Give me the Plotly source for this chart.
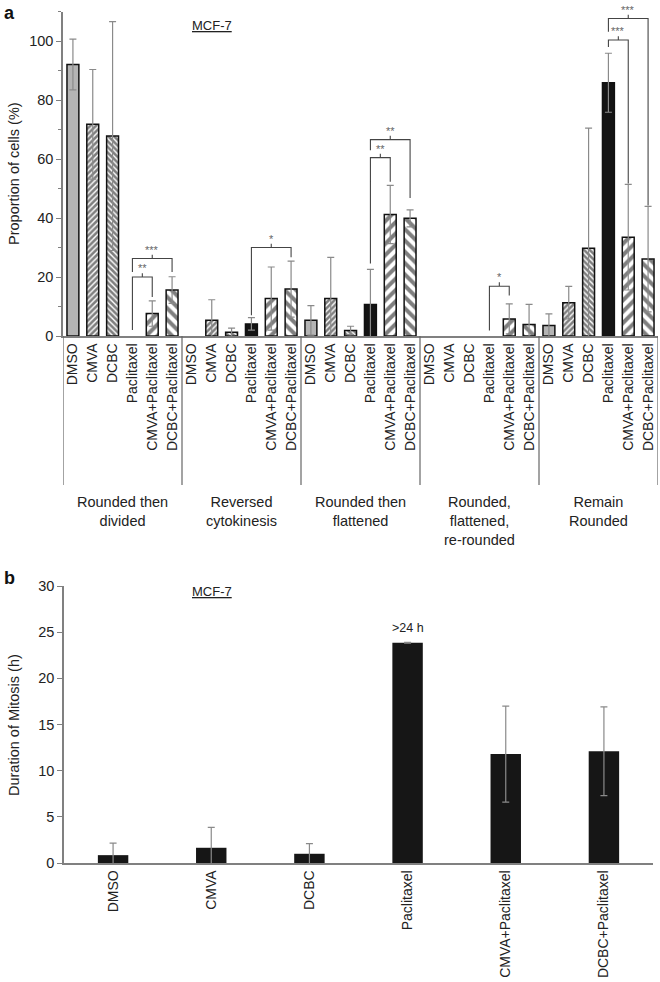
import plotly.graph_objects as go

# ---------------- data ----------------
treatments = ["DMSO", "CMVA", "DCBC", "Paclitaxel", "CMVA+Paclitaxel", "DCBC+Paclitaxel"]
outcome_groups = ["Rounded then<br>divided", "Reversed<br>cytokinesis", "Rounded then<br>flattened",
                  "Rounded,<br>flattened,<br>re-rounded", "Remain<br>Rounded"]

# proportion of cells (%) per treatment, across the 5 outcome groups
prop_dmso = [92.1, 0, 5.3, 0, 3.6]
prop_cmva = [71.8, 5.3, 12.7, 0, 11.3]
prop_dcbc = [67.8, 1.3, 1.9, 0, 29.8]
prop_pac = [0, 4.1, 10.7, 0, 85.9]
prop_cmva_pac = [7.6, 12.7, 41.2, 5.8, 33.5]
prop_dcbc_pac = [15.6, 15.9, 39.9, 3.9, 26.1]

err_dmso = [8.6, 0, 5.0, 0, 3.9]
err_cmva = [18.6, 7.0, 14.0, 0, 5.5]
err_dcbc = [38.8, 1.4, 1.4, 0, 40.7]
err_pac = [0, 2.1, 11.9, 0, 10.0]
err_cmva_pac = [4.3, 10.7, 9.9, 5.1, 17.9]
err_dcbc_pac = [4.5, 9.5, 2.9, 6.8, 17.9]

# significance marks: (group, from treatment, to treatment, bracket level, left end, right end, label)
sig_marks = [
    (0, 3, 4, 20.0, 2.0, 13.2, "**"),
    (0, 3, 5, 26.3, 21.7, 21.7, "***"),
    (1, 3, 5, 30.0, 7.0, 26.7, "*"),
    (2, 3, 4, 60.5, 24.6, 52.3, "**"),
    (2, 3, 5, 66.6, 63.0, 46.8, "**"),
    (3, 3, 4, 16.9, 1.9, 13.7, "*"),
    (4, 3, 4, 100.4, 98.0, 51.7, "***"),
    (4, 3, 5, 107.7, 103.2, 44.3, "***"),
]

# duration of mitosis (h)
duration = [0.85, 1.65, 1.0, 23.85, 11.8, 12.1]
duration_err = [1.3, 2.2, 1.1, 0.05, 5.2, 4.8]

# ---------------- figure ----------------
W, H = 660, 982
FONT = "Liberation Sans, Arial, sans-serif"
TXT = "#222222"
AX = "#808080"

def py(px):
    return 1 - px / H

n_t = len(treatments)
n_g = len(outcome_groups)

fig = go.Figure()

series = [
    (prop_dmso, err_dmso, dict(color="#b4b4b4")),
    (prop_cmva, err_cmva, dict(color="white", pattern=dict(shape="/", fgcolor="#000", bgcolor="white", size=4, solidity=0.65))),
    (prop_dcbc, err_dcbc, dict(color="white", pattern=dict(shape="\\", fgcolor="#000", bgcolor="white", size=4, solidity=0.65))),
    (prop_pac, err_pac, dict(color="#141414")),
    (prop_cmva_pac, err_cmva_pac, dict(color="white", pattern=dict(shape="/", fgcolor="#000", bgcolor="white", size=8, solidity=0.5))),
    (prop_dcbc_pac, err_dcbc_pac, dict(color="white", pattern=dict(shape="\\", fgcolor="#000", bgcolor="white", size=8, solidity=0.5))),
]

for k, (vals, errs, mk) in enumerate(series):
    xs = [g * n_t + k for g in range(n_g)]
    ys = [v if v > 0 else None for v in vals]
    es = [e if v > 0 else None for v, e in zip(vals, errs)]
    fig.add_trace(go.Bar(
        x=xs, y=ys, name=treatments[k], xaxis="x", yaxis="y", width=0.6,
        marker=dict(line=dict(color="#111", width=1.5), **mk),
        error_y=dict(type="data", array=es, visible=True, color="#8a8a8a", thickness=1.2, width=3.5),
        showlegend=False,
    ))

fig.add_trace(go.Bar(
    x=treatments, y=duration, xaxis="x2", yaxis="y2", width=0.31,
    marker=dict(color="#161616", line=dict(width=0)),
    error_y=dict(type="data", array=duration_err, visible=True, color="#8a8a8a", thickness=1.2, width=3.5),
    showlegend=False,
))

shapes = []
annotations = []

# group separators below the x axis of panel a
for g in range(n_g + 1):
    xg = g * n_t - 0.5
    shapes.append(dict(type="line", xref="x", yref="paper", x0=xg, x1=xg,
                       y0=py(336), y1=py(485), line=dict(color="#666", width=1.2)))
# group labels
for g, lab in enumerate(outcome_groups):
    annotations.append(dict(text=lab, xref="x", yref="paper", x=g * n_t + (n_t - 1) / 2,
                            y=py(492), yanchor="top", xanchor="center", showarrow=False,
                            font=dict(family=FONT, size=14.5, color=TXT)))

# significance brackets
for g, a, b, top, le, re_, lab in sig_marks:
    xa = g * n_t + a
    xb = g * n_t + b
    xm = (xa + xb) / 2
    path = f"M {xa},{le} L {xa},{top} L {xb},{top} L {xb},{re_} M {xm},{top} L {xm},{top + 1.3}"
    shapes.append(dict(type="path", xref="x", yref="y", path=path,
                       line=dict(color="#444", width=1.1)))
    annotations.append(dict(text=lab, xref="x", yref="y", x=xm, y=top + 0.6, yanchor="bottom",
                            xanchor="center", showarrow=False, borderpad=0,
                            font=dict(family=FONT, size=11, color="#666")))

# titles and labels
annotations += [
    dict(text="<b>a</b>", xref="paper", yref="paper", x=2 / W, y=py(1), xanchor="left", yanchor="top",
         showarrow=False, font=dict(family=FONT, size=18, color="#111")),
    dict(text="<b>b</b>", xref="paper", yref="paper", x=2 / W, y=py(566), xanchor="left", yanchor="top",
         showarrow=False, font=dict(family=FONT, size=18, color="#111")),
    dict(text="<u>MCF-7</u>", xref="paper", yref="paper", x=212 / W, y=py(26), xanchor="center",
         yanchor="middle", showarrow=False, font=dict(family=FONT, size=13, color=TXT)),
    dict(text="<u>MCF-7</u>", xref="paper", yref="paper", x=212 / W, y=py(591), xanchor="center",
         yanchor="middle", showarrow=False, font=dict(family=FONT, size=13, color=TXT)),
    dict(text="Proportion of cells (%)", xref="paper", yref="paper", x=14 / W, y=py(174),
         textangle=-90, xanchor="center", yanchor="middle", showarrow=False,
         font=dict(family=FONT, size=14.5, color=TXT)),
    dict(text="Duration of Mitosis (h)", xref="paper", yref="paper", x=14 / W, y=py(725),
         textangle=-90, xanchor="center", yanchor="middle", showarrow=False,
         font=dict(family=FONT, size=14.5, color=TXT)),
    dict(text=">24 h", xref="x2", yref="y2", x=treatments[3], y=duration[3] + 0.6, yanchor="bottom",
         xanchor="center", showarrow=False, font=dict(family=FONT, size=12.5, color=TXT)),
]

tickvals_a = list(range(n_g * n_t))
ticktext_a = [treatments[i % n_t] for i in tickvals_a]

fig.update_layout(
    width=W, height=H,
    margin=dict(l=0, r=0, t=0, b=0),
    paper_bgcolor="white", plot_bgcolor="white",
    barmode="overlay",
    font=dict(family=FONT, size=14, color=TXT),
    xaxis=dict(domain=[63 / W, 658 / W], range=[-0.5, n_g * n_t - 0.5], anchor="y", automargin=False,
               tickmode="array", tickvals=tickvals_a, ticktext=ticktext_a, tickangle=-90,
               ticks="", showline=True, linecolor=AX, linewidth=1.5, showgrid=False, zeroline=False,
               tickfont=dict(family=FONT, size=14, color=TXT), fixedrange=True),
    yaxis=dict(domain=[py(336), py(11.7)], range=[0, 110], anchor="x", automargin=False,
               tickmode="array", tickvals=[0, 20, 40, 60, 80, 100], ticks="outside", ticklen=5,
               tickcolor=AX, minor=dict(tickmode="array", tickvals=[10, 30, 50, 70, 90, 110],
                                        ticks="outside", ticklen=3, tickcolor=AX),
               showline=True, linecolor=AX, linewidth=1.5, showgrid=False, zeroline=False,
               tickfont=dict(family=FONT, size=14.5, color=TXT)),
    xaxis2=dict(domain=[64 / W, 653 / W], anchor="y2", type="category", tickangle=-90, ticks="",
                automargin=False, showline=True, linecolor=AX, linewidth=1.5, showgrid=False,
                tickfont=dict(family=FONT, size=14, color=TXT)),
    yaxis2=dict(domain=[py(863), py(586)], range=[0, 30], anchor="x2", dtick=5, automargin=False,
                ticks="outside", ticklen=5, tickcolor=AX, showline=True, linecolor=AX, linewidth=1.5,
                showgrid=False, zeroline=False, tickfont=dict(family=FONT, size=14.5, color=TXT)),
    shapes=shapes,
    annotations=annotations,
)

fig.write_html("out.html", config={"displayModeBar": False},
               post_script="document.body.style.margin='0px';document.body.style.padding='0px';")
